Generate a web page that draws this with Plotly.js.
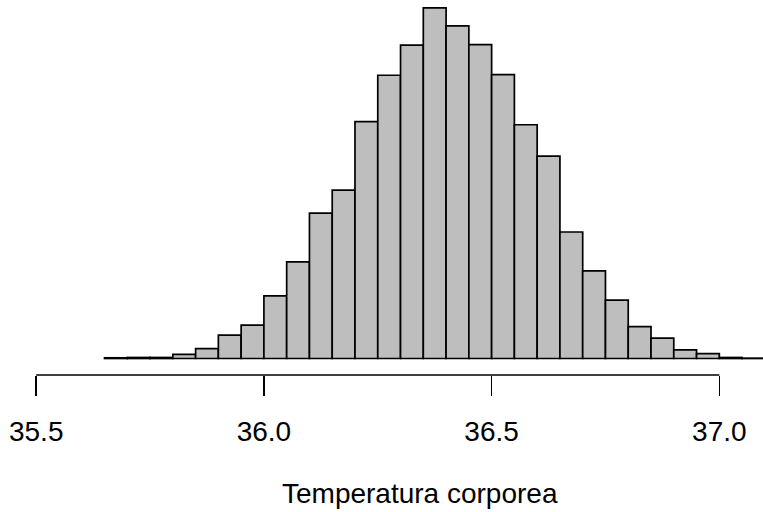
<!DOCTYPE html>
<html>
<head>
<meta charset="utf-8">
<script src="https://cdn.plot.ly/plotly-3.0.1.min.js"></script>
<style>
  html, body { margin: 0; padding: 0; background: #ffffff; }
  #chart { width: 763px; height: 512px; }
</style>
</head>
<body>
<div id="chart"></div>
<script>
// Histogram of body temperature: left edges of 0.05-wide bins and their counts
const binStart = [35.65, 35.70, 35.75, 35.80, 35.85, 35.90, 35.95, 36.00, 36.05, 36.10,
                  36.15, 36.20, 36.25, 36.30, 36.35, 36.40, 36.45, 36.50, 36.55, 36.60,
                  36.65, 36.70, 36.75, 36.80, 36.85, 36.90, 36.95, 37.00, 37.05];
const counts = [2, 3, 3, 12, 29, 68, 97, 182, 281, 423,
                490, 689, 824, 912, 1020, 968, 913, 826, 680, 589,
                368, 255, 170, 93, 59, 25, 14, 3, 1];
const binWidth = 0.05;

// x-axis tick positions and labels
const tickValues = [35.5, 36.0, 36.5, 37.0];
const tickLabels = ["35.5", "36.0", "36.5", "37.0"];
const xTitle = "Temperatura corporea";

const centers = binStart.map(b => b + binWidth / 2);

const trace = {
  type: "bar",
  x: centers,
  y: counts,
  width: binWidth,
  marker: {
    color: "#bebebe",
    line: { color: "#000000", width: 1.7 }
  },
  hoverinfo: "skip"
};

const font = "Liberation Sans, Arial, Helvetica, sans-serif";

const layout = {
  width: 763,
  height: 512,
  margin: { l: 0, r: 0, t: 0, b: 137 },
  paper_bgcolor: "#ffffff",
  plot_bgcolor: "#ffffff",
  showlegend: false,
  bargap: 0,
  xaxis: {
    range: [35.4205, 37.0959],
    showgrid: false,
    zeroline: false,
    showline: false,
    tickmode: "array",
    tickvals: tickValues,
    ticktext: tickLabels,
    ticks: "outside",
    ticklen: 20,
    tickwidth: 1.5,
    tickcolor: "#000000",
    ticklabelstandoff: 11,
    tickfont: { family: font, size: 28, color: "#000000" }
  },
  yaxis: {
    range: [-48, 1043],
    visible: false,
    showgrid: false,
    zeroline: false
  },
  // axis title, centred on the full plotting region (which runs past the right edge)
  annotations: [
    {
      text: xTitle,
      xref: "paper", yref: "paper",
      x: 0.551, y: -0.316,
      xanchor: "center", yanchor: "middle",
      showarrow: false,
      font: { family: font, size: 28, color: "#000000" }
    }
  ],
  shapes: [
    {
      type: "line",
      xref: "x", yref: "paper",
      x0: tickValues[0], x1: tickValues[tickValues.length - 1],
      y0: 0, y1: 0,
      line: { color: "#000000", width: 1.5 }
    }
  ]
};

Plotly.newPlot("chart", [trace], layout, { staticPlot: true, displayModeBar: false });
</script>
</body>
</html>
